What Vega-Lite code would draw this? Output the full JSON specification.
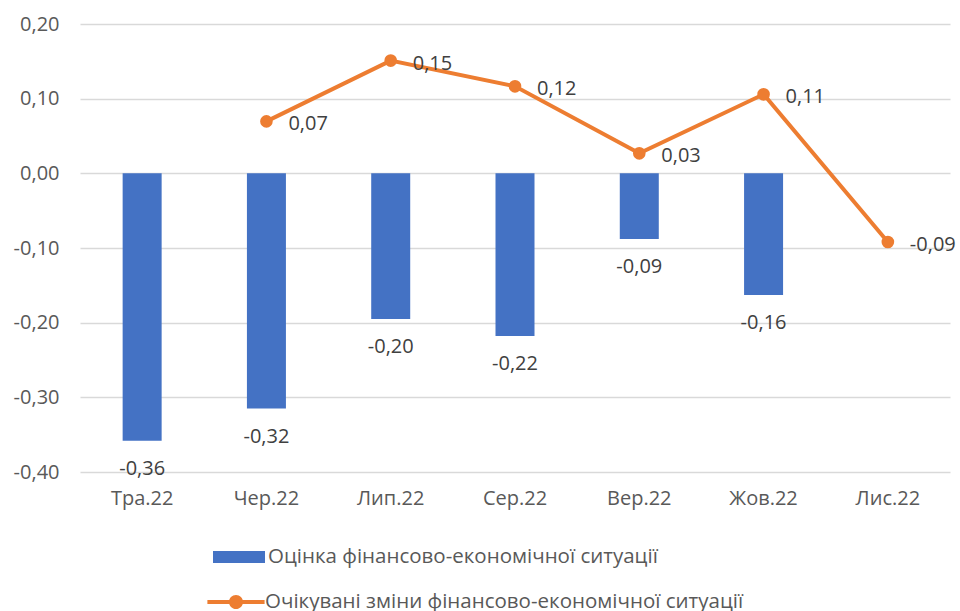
{
  "$schema": "https://vega.github.io/schema/vega-lite/v6.json",
  "width": 870,
  "height": 448,
  "autosize": {"type": "none"},
  "padding": {"left": 80, "top": 24, "right": 10, "bottom": 139},
  "background": "white",
  "config": {
    "font": "Open Sans",
    "view": {"stroke": null},
    "axis": {"labelFont": "Open Sans", "labelFontSize": 20, "labelColor": "#595959"},
    "legend": {"labelFont": "Open Sans", "labelFontSize": 20.5, "labelColor": "#595959", "labelLimit": 0}
  },
  "data": {
    "values": [
      {"month": "Тра.22", "fin": -0.358, "finLabel": "-0,36", "exp": null, "expLabel": null},
      {"month": "Чер.22", "fin": -0.315, "finLabel": "-0,32", "exp": 0.0696, "expLabel": "0,07"},
      {"month": "Лип.22", "fin": -0.195, "finLabel": "-0,20", "exp": 0.151, "expLabel": "0,15"},
      {"month": "Сер.22", "fin": -0.218, "finLabel": "-0,22", "exp": 0.1165, "expLabel": "0,12"},
      {"month": "Вер.22", "fin": -0.088, "finLabel": "-0,09", "exp": 0.0268, "expLabel": "0,03"},
      {"month": "Жов.22", "fin": -0.163, "finLabel": "-0,16", "exp": 0.1058, "expLabel": "0,11"},
      {"month": "Лис.22", "fin": null, "finLabel": null, "exp": -0.092, "expLabel": "-0,09"}
    ]
  },
  "encoding": {
    "x": {
      "field": "month", "type": "nominal", "sort": null, "title": null,
      "scale": {"paddingInner": 0, "paddingOuter": 0},
      "axis": {"labelAngle": 0, "domain": false, "ticks": false, "labelPadding": 16, "grid": false}
    }
  },
  "layer": [
    {
      "mark": {"type": "bar", "width": 39},
      "encoding": {
        "y": {
          "field": "fin", "type": "quantitative", "title": null,
          "scale": {"domain": [-0.4, 0.2], "nice": false, "zero": false},
          "axis": {
            "values": [-0.4, -0.3, -0.2, -0.1, 0, 0.1, 0.2],
            "labelExpr": "replace(replace(format(datum.value, '.2f'), '.', ','), '\u2212', '-')",
            "domain": false, "ticks": false, "labelPadding": 21,
            "gridColor": "#D9D9D9", "gridWidth": 1.5
          }
        },
        "color": {
          "datum": "Оцінка фінансово-економічної ситуації",
          "scale": {"range": ["#4472C4"]},
          "legend": {
            "title": null, "orient": "none", "legendX": 133, "legendY": 507, "padding": 0,
            "symbolType": "M-1,-0.23H1V0.23H-1Z", "symbolSize": 2704, "symbolStrokeWidth": 0,
            "labelOffset": 3
          }
        }
      }
    },
    {
      "mark": {"type": "text", "baseline": "top", "dy": 18, "fontSize": 20, "color": "#404040"},
      "encoding": {
        "y": {"field": "fin", "type": "quantitative"},
        "text": {"field": "finLabel"}
      }
    },
    {
      "mark": {"type": "rule", "color": "#000000", "strokeWidth": 1.5},
      "encoding": {"y": {"datum": 0}}
    },
    {
      "mark": {"type": "line", "color": "#ED7D31", "strokeWidth": 4},
      "encoding": {"y": {"field": "exp", "type": "quantitative"}}
    },
    {
      "mark": {"type": "point", "filled": true, "opacity": 1, "size": 160},
      "encoding": {
        "y": {"field": "exp", "type": "quantitative"},
        "fill": {
          "datum": "Очікувані зміни  фінансово-економічної ситуації",
          "scale": {"range": ["#ED7D31"]},
          "legend": {
            "title": null, "orient": "none", "legendX": 130, "legendY": 552, "padding": 0,
            "symbolType": "M-1.1,-0.08H1.1V0.08H-1.1Z M-0.27,0A0.27,0.27 0 1,1 0.27,0A0.27,0.27 0 1,1 -0.27,0Z",
            "symbolSize": 2704, "symbolStrokeWidth": 0, "labelOffset": 3
          }
        }
      }
    },
    {
      "mark": {"type": "text", "align": "left", "baseline": "middle", "dx": 22, "dy": 3, "fontSize": 20, "color": "#404040"},
      "encoding": {
        "y": {"field": "exp", "type": "quantitative"},
        "text": {"field": "expLabel"}
      }
    }
  ]
}
